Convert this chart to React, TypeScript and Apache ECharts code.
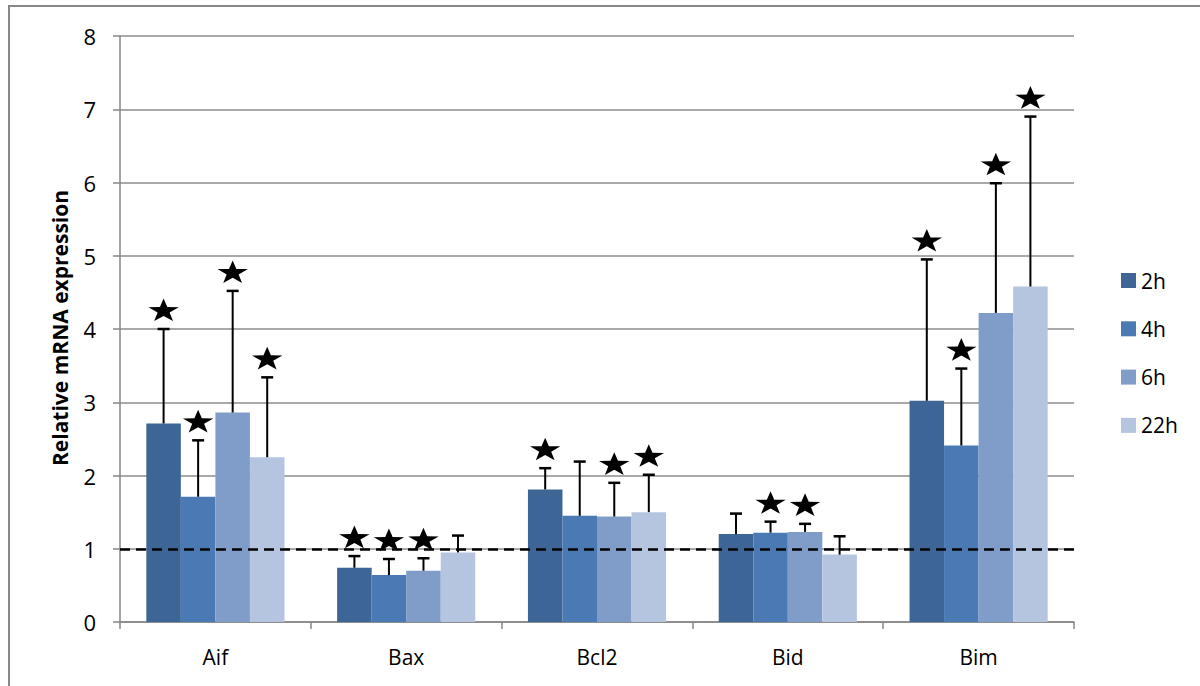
import React, { useEffect, useRef } from "react";
import * as echarts from "echarts";

const categories = ["Aif", "Bax", "Bcl2", "Bid", "Bim"];
const seriesNames = ["2h", "4h", "6h", "22h"];

const mean2h = [2.71, 0.74, 1.81, 1.2, 3.02];
const mean4h = [1.71, 0.64, 1.45, 1.22, 2.41];
const mean6h = [2.86, 0.7, 1.44, 1.23, 4.22];
const mean22h = [2.25, 0.95, 1.5, 0.92, 4.58];

const sd2h = [1.29, 0.16, 0.29, 0.28, 1.93];
const sd4h = [0.77, 0.22, 0.74, 0.15, 1.05];
const sd6h = [1.66, 0.17, 0.46, 0.11, 1.77];
const sd22h = [1.09, 0.23, 0.51, 0.25, 2.32];

const sig2h = [1, 1, 1, 0, 1];
const sig4h = [1, 1, 0, 1, 1];
const sig6h = [1, 1, 1, 1, 1];
const sig22h = [1, 0, 1, 0, 1];

const yTicks = [0, 1, 2, 3, 4, 5, 6, 7, 8];
const referenceLevel = 1;

const colors = ["#3D6697", "#4A79B3", "#7F9DC8", "#B5C4DF"];
const FONT = "Open Sans";
const GAP = 0.276;

const means = [mean2h, mean4h, mean6h, mean22h];
const sds = [sd2h, sd4h, sd6h, sd22h];
const sigs = [sig2h, sig4h, sig6h, sig22h];

function starPoints(cx: number, cy: number, R: number, r: number, sy: number) {
  const pts: number[][] = [];
  for (let i = 0; i < 10; i++) {
    const rad = i % 2 === 0 ? R : r;
    const a = -Math.PI / 2 + (i * Math.PI) / 5;
    pts.push([cx + rad * Math.cos(a), cy + rad * Math.sin(a) * sy]);
  }
  return pts;
}

export default function App() {
  const ref = useRef<HTMLDivElement>(null);
  useEffect(() => {
    if (!ref.current) return;
    const chart = echarts.init(ref.current, null, { renderer: "svg" });

    const barSeries = seriesNames.map((name, k) => ({
      name,
      type: "bar",
      data: means[k],
      barGap: "0%",
      barCategoryGap: GAP * 100 + "%",
      itemStyle: { color: colors[k] },
      z: 2,
    }));

    const errSeries = seriesNames.map((name, k) => ({
      type: "custom",
      name: name + "-err",
      z: 10,
      silent: true,
      encode: { x: 0, y: 1 },
      data: means[k].map((m, i) => [i, m, sds[k][i], sigs[k][i]]),
      renderItem: (params: any, api: any) => {
        const idx = api.value(0);
        const m = api.value(1);
        const sd = api.value(2);
        const sig = api.value(3);
        const base = api.coord([idx, m]);
        const top = api.coord([idx, m + sd]);
        const band = api.size([1, 0])[0];
        const bw = (band * (1 - GAP)) / 4;
        const x = base[0] + (k - 1.5) * bw;
        const children: any[] = [
          {
            type: "line",
            shape: { x1: x, y1: base[1], x2: x, y2: top[1] },
            style: { stroke: "#000", lineWidth: 2 },
          },
          {
            type: "line",
            shape: { x1: x - 6, y1: top[1], x2: x + 6, y2: top[1] },
            style: { stroke: "#000", lineWidth: 2.5 },
          },
        ];
        if (sig) {
          children.push({
            type: "polygon",
            shape: { points: starPoints(x, top[1] - 18, 16, 6.3, 0.78) },
            style: { fill: "#000" },
          });
        }
        return { type: "group", children };
      },
      markLine:
        k === 3
          ? {
              silent: true,
              symbol: ["none", "none"],
              label: { show: false },
              lineStyle: { color: "#000", type: [10, 6], width: 2.5 },
              data: [{ yAxis: referenceLevel }],
            }
          : undefined,
    }));

    chart.setOption({
      animation: false,
      backgroundColor: "#fff",
      textStyle: { fontFamily: FONT },
      grid: { left: 120, right: 126, top: 36, bottom: 64 },
      legend: {
        orient: "vertical",
        left: 1116,
        top: 265,
        itemWidth: 15,
        itemHeight: 15,
        itemGap: 27.3,
        icon: "rect",
        data: seriesNames,
        textStyle: { fontSize: 21, color: "#000", fontFamily: FONT, lineHeight: 21 },
      },
      xAxis: {
        type: "category",
        data: categories,
        axisLine: { lineStyle: { color: "#868686", width: 1.5 } },
        axisTick: { show: true, length: 7, lineStyle: { color: "#868686", width: 1.5 } },
        axisLabel: { fontSize: 21, color: "#000", margin: 24, fontFamily: FONT },
      },
      yAxis: {
        type: "value",
        min: yTicks[0],
        max: yTicks[yTicks.length - 1],
        interval: 1,
        axisLine: { show: true, lineStyle: { color: "#868686", width: 1.5 } },
        axisTick: { show: true, length: 7, lineStyle: { color: "#868686", width: 1.5 } },
        axisLabel: { fontSize: 22, color: "#000", margin: 24, fontFamily: FONT },
        splitLine: { lineStyle: { color: "#8C8C8C", width: 1.5 } },
      },
      graphic: [
        {
          type: "rect",
          z: -1,
          shape: { x: 9, y: 6, width: 1300, height: 800 },
          style: { fill: "none", stroke: "#878787", lineWidth: 2 },
        },
        {
          type: "text",
          x: 60,
          y: 328,
          rotation: Math.PI / 2,
          style: {
            text: "Relative mRNA expression",
            font: `bold 21px "${FONT}"`,
            fill: "#000",
            textAlign: "center",
            textVerticalAlign: "middle",
          },
        },
      ],
      series: [...barSeries, ...errSeries],
    });
    return () => chart.dispose();
  }, []);
  return (
    <div
      ref={ref}
      style={{ position: "absolute", left: 0, top: 0, width: 1200, height: 686 }}
    />
  );
}
